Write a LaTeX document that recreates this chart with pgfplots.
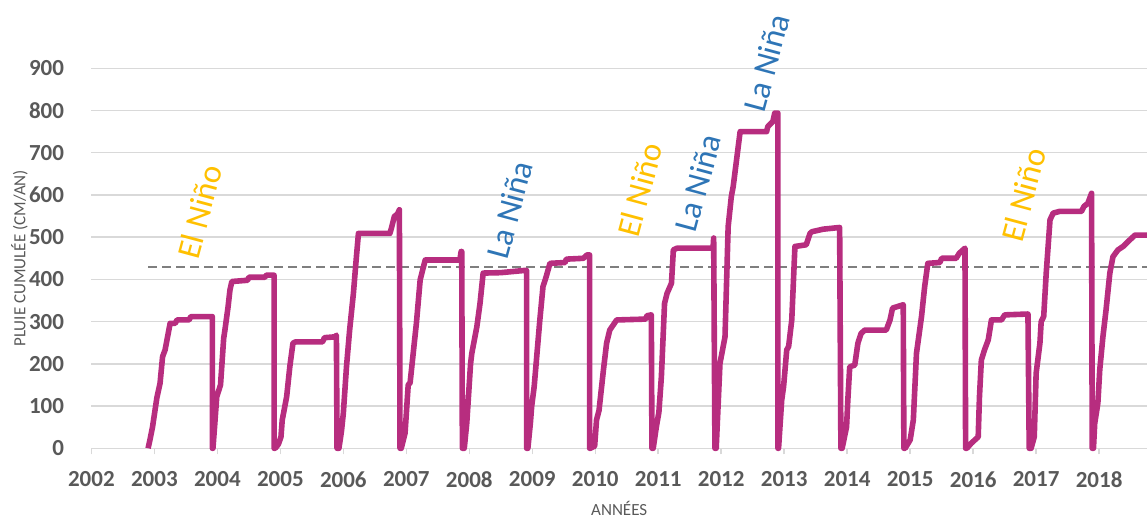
\documentclass[border=0pt]{standalone}
\usepackage{fontspec}
\setmainfont{Carlito}
\usepackage{pgfplots}
\pgfplotsset{compat=1.18}
\definecolor{rain}{RGB}{183,45,127}
\definecolor{txt}{RGB}{89,89,89}
\definecolor{gridc}{RGB}{217,217,217}
\definecolor{dashc}{RGB}{127,127,127}
\definecolor{nino}{RGB}{255,192,0}
\definecolor{nina}{RGB}{46,117,182}
\begin{document}
\begin{tikzpicture}
\begin{axis}[
  at={(0,0)}, anchor=south west, scale only axis,
  width=527.8pt, height=190pt,
  xmin=2002, xmax=2018.76, ymin=0, ymax=900,
  xtick={2002,2003,...,2018}, ytick={0,100,...,900},
  /pgf/number format/assume math mode=true,
  /pgf/number format/1000 sep={},
  axis line style={draw=none},
  ymajorgrids, grid style={draw=gridc, line width=0.75pt},
  xtick pos=bottom, tick align=outside, major tick length=3pt,
  xtick style={draw=gridc, line width=0.75pt},
  ytick style={draw=none},
  xticklabel style={font=\bfseries\fontsize{11.5}{13}\selectfont, text=txt, anchor=center, yshift=-12.5pt},
  yticklabel style={font=\bfseries\fontsize{11.5}{13}\selectfont, text=txt, anchor=east, inner sep=0pt, xshift=-10.5pt},
  xlabel={ANNÉES},
  ylabel={PLUIE CUMULÉE (CM/AN)},
  xlabel style={font=\fontsize{8.5}{10}\selectfont, text=txt, at={(axis description cs:0.5,-0.158)}, anchor=center},
  ylabel style={font=\fontsize{8.5}{10}\selectfont, text=txt, at={(axis description cs:-0.0682,0.5)}, anchor=center},
  clip=false,
]
\addplot[dashc, line width=1.2pt, dash pattern=on 4.5pt off 2.5pt] coordinates {(2002.9,430) (2018.76,430)};
\addplot[rain, line width=2.8pt, line join=round] coordinates {
(2002.90,0) (2002.93,20) (2002.97,50) (2003.04,120) (2003.09,154) (2003.13,217) (2003.17,233) (2003.25,296) (2003.33,296) (2003.36,304) (2003.55,304) (2003.58,312) (2003.92,312) (2003.92,0)
(2003.93,0) (2003.96,60) (2003.99,122) (2004.05,150) (2004.10,260) (2004.12,280) (2004.17,335) (2004.20,375) (2004.23,395) (2004.48,398) (2004.50,405) (2004.75,405) (2004.78,410) (2004.90,410) (2004.90,0)
(2004.92,0) (2004.97,10) (2005.01,27) (2005.03,67) (2005.10,122) (2005.15,193) (2005.20,249) (2005.24,252) (2005.67,252) (2005.70,262) (2005.87,264) (2005.89,268) (2005.90,0)
(2005.93,0) (2005.97,40) (2006.00,83) (2006.05,193) (2006.10,280) (2006.16,367) (2006.20,440) (2006.24,509) (2006.74,509) (2006.77,525) (2006.81,549) (2006.86,555) (2006.89,565) (2006.90,0)
(2006.92,0) (2006.98,36) (2007.03,150) (2007.06,155) (2007.12,240) (2007.16,296) (2007.22,399) (2007.30,446) (2007.85,446) (2007.87,466) (2007.88,466) (2007.89,0)
(2007.92,0) (2007.96,60) (2008.02,200) (2008.04,225) (2008.12,288) (2008.17,343) (2008.22,415) (2008.50,416) (2008.86,421) (2008.91,421) (2008.91,0)
(2008.93,0) (2008.97,60) (2008.99,99) (2009.03,146) (2009.12,304) (2009.17,383) (2009.22,406) (2009.28,438) (2009.52,440) (2009.54,448) (2009.81,450) (2009.87,458) (2009.91,458) (2009.91,0)
(2009.92,0) (2009.99,5) (2010.02,67) (2010.06,90) (2010.13,186) (2010.18,249) (2010.23,280) (2010.34,304) (2010.80,306) (2010.82,314) (2010.89,316) (2010.90,0)
(2010.92,0) (2010.97,51) (2011.01,85) (2011.05,170) (2011.10,343) (2011.14,367) (2011.21,391) (2011.24,470) (2011.30,474) (2011.87,474) (2011.88,498) (2011.90,0)
(2011.92,0) (2011.98,201) (2012.06,264) (2012.11,525) (2012.16,596) (2012.19,620) (2012.30,750) (2012.72,750) (2012.74,762) (2012.82,774) (2012.85,794) (2012.90,794) (2012.90,0)
(2012.91,0) (2012.96,114) (2012.99,146) (2013.04,233) (2013.07,241) (2013.12,304) (2013.17,478) (2013.35,482) (2013.41,509) (2013.44,513) (2013.62,519) (2013.88,523) (2013.90,0)
(2013.92,0) (2013.99,51) (2014.01,114) (2014.04,193) (2014.12,197) (2014.17,249) (2014.22,272) (2014.28,280) (2014.62,280) (2014.68,304) (2014.72,332) (2014.89,340) (2014.90,0)
(2014.92,0) (2015.00,20) (2015.05,67) (2015.10,225) (2015.18,312) (2015.23,383) (2015.28,438) (2015.47,440) (2015.50,450) (2015.73,450) (2015.78,462) (2015.87,474) (2015.88,0)
(2015.90,0) (2015.97,12) (2016.08,27) (2016.10,122) (2016.13,209) (2016.18,233) (2016.24,257) (2016.29,304) (2016.45,304) (2016.50,316) (2016.87,318) (2016.89,0)
(2016.92,0) (2016.97,27) (2017.00,178) (2017.06,249) (2017.08,300) (2017.12,312) (2017.16,415) (2017.22,541) (2017.27,557) (2017.37,561) (2017.72,561) (2017.76,573) (2017.82,580) (2017.88,604) (2017.89,0)
(2017.91,0) (2017.93,59) (2017.98,107) (2018.01,186) (2018.06,264) (2018.11,328) (2018.17,415) (2018.22,454) (2018.30,470) (2018.38,478) (2018.49,494) (2018.57,505) (2018.76,505)
};
\node[rotate=75, text=nino, font=\fontsize{16.5}{19}\selectfont] at (axis cs:2003.72,560) {El Niño};
\node[rotate=75, text=nina, font=\fontsize{16.5}{19}\selectfont] at (axis cs:2008.64,565) {La Niña};
\node[rotate=75, text=nino, font=\fontsize{16.5}{19}\selectfont] at (axis cs:2010.71,612) {El Niño};
\node[rotate=75, text=nina, font=\fontsize{16.5}{19}\selectfont] at (axis cs:2011.63,628) {La Niña};
\node[rotate=75, text=nina, font=\fontsize{16.5}{19}\selectfont] at (axis cs:2012.72,913) {La Niña};
\node[rotate=75, text=nino, font=\fontsize{16.5}{19}\selectfont] at (axis cs:2016.80,600) {El Niño};
\end{axis}
\pgfresetboundingbox
\useasboundingbox (-45.7pt,-34.85pt) rectangle (527.8pt,224.15pt);
\end{tikzpicture}
\end{document}
